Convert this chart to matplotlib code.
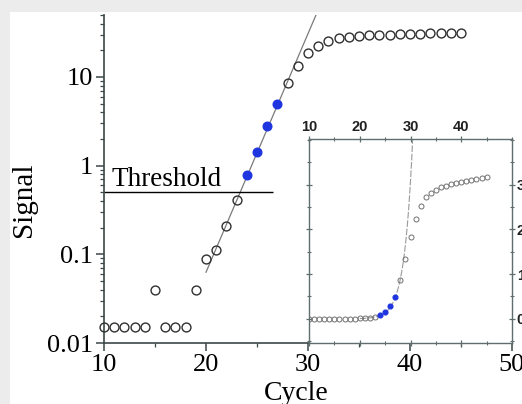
import numpy as np
import matplotlib
matplotlib.use("Agg")
import matplotlib.pyplot as plt
from matplotlib.ticker import MultipleLocator, FixedLocator
from matplotlib.patches import Rectangle

# data
cycles_open1 = [10, 11, 12, 13, 14, 15, 16, 17, 18, 19, 20, 21, 22, 23]
signal_open1 = [0.015, 0.015, 0.015, 0.015, 0.015, 0.04, 0.015, 0.015, 0.015,
                0.04, 0.088, 0.113, 0.21, 0.41]
cycles_blue = [24, 25, 26, 27]
signal_blue = [0.78, 1.44, 2.78, 4.9]
cycles_open2 = [28, 29, 30, 31, 32, 33, 34, 35, 36, 37, 38, 39, 40, 41, 42, 43, 44, 45]
signal_open2 = [8.6, 13.3, 18.4, 22.3, 25.3, 27.2, 28.2, 28.9, 29.4, 29.8, 30.1,
                30.4, 30.7, 30.9, 31.1, 31.3, 31.5, 31.7]

# exponential fit line (log-linear)
fit_x = [20.0, 31.5]
fit_log0 = -1.183
fit_x0 = 20.07
fit_slope = 0.269
threshold = 0.5
threshold_end = 26.6

serif = ['Liberation Serif', 'DejaVu Serif']

fig = plt.figure(figsize=(5.22, 4.04), dpi=100)
fig.patch.set_facecolor('#ececec')
fig.patches.append(Rectangle((10 / 522, 0), 1, 1 - 12 / 404, transform=fig.transFigure,
                             facecolor='white', edgecolor='none', zorder=-10))

ax = fig.add_axes([104 / 522, 61 / 404, 408 / 522, 328 / 404])
ax.set_facecolor('none')
spine_c = '#3c4848'
for s in ['top', 'right']:
    ax.spines[s].set_visible(False)
for s in ['left', 'bottom']:
    ax.spines[s].set_color(spine_c)
    ax.spines[s].set_linewidth(1.2)

ax.set_yscale('log')
ax.set_xlim(10, 50)
ax.set_ylim(0.01, 50)

fx = np.linspace(fit_x[0], fit_x[1], 50)
fy = 10 ** (fit_log0 + fit_slope * (fx - fit_x0))
ax.plot(fx, fy, color='#7a7a7a', lw=0.9, zorder=2)

ax.hlines(threshold, 10, threshold_end, color='black', lw=1.0, zorder=2)
ax.text(10.7, threshold * 1.0, 'Threshold', family=serif, fontsize=19.5,
        va='bottom', ha='left')

ax.plot(cycles_open1 + cycles_open2, signal_open1 + signal_open2, 'o', ms=6.4,
        mfc='none', mec='#303030', mew=1.0, clip_on=False, zorder=3)
ax.plot(cycles_blue, signal_blue, 'o', ms=6.2, color='#1f35e0', mec='#1f35e0', zorder=4)

ax.xaxis.set_major_locator(MultipleLocator(10))
ax.xaxis.set_minor_locator(MultipleLocator(5))
ax.tick_params(axis='both', which='major', direction='out', length=6, width=1.1,
               color=spine_c, labelsize=19)
ax.tick_params(axis='both', which='minor', direction='out', length=3, width=0.9,
               color=spine_c)
ax.set_yticks([0.01, 0.1, 1, 10])
ax.set_yticklabels(['0.01', '0.1', '1', '10'])
for lab in ax.get_xticklabels() + ax.get_yticklabels():
    lab.set_family(serif)
ax.tick_params(axis='x', pad=2)
ax.tick_params(axis='y', pad=2)

ax.set_xlabel('Cycle', family=serif, fontsize=20)
ax.xaxis.set_label_coords(0.47, -0.155)
ax.xaxis.label.set_va('center')
ax.set_ylabel('Signal', family=serif, fontsize=21)
ax.yaxis.set_label_coords(-0.196, 0.436)
ax.yaxis.label.set_va('center')

# inset, linear scale
ins = fig.add_axes([309 / 522, 61 / 404, 203 / 522, 204 / 404])
ins.set_facecolor('white')
ins_c = '#5f6d6d'
for s in ins.spines.values():
    s.set_color(ins_c)
    s.set_linewidth(1.0)
ins.set_xlim(10, 50)
ins.set_ylim(-5.4, 40.2)

ix = np.linspace(fit_x[0], fit_x[1], 200)
iy = 10 ** (fit_log0 + fit_slope * (ix - fit_x0))
ins.plot(ix, iy, color='#9a9a9a', lw=0.8, ls=(0, (6, 1.5)), zorder=2)
ins.plot(cycles_open1 + cycles_open2, signal_open1 + signal_open2, 'o', ms=3.6,
         mfc='none', mec='#707070', mew=0.7, zorder=3)
ins.plot(cycles_blue, signal_blue, 'o', ms=3.4, color='#1f35e0', zorder=4)

ins.xaxis.set_major_locator(FixedLocator([10, 20, 30, 40]))
ins.xaxis.set_minor_locator(MultipleLocator(5))
ins.yaxis.set_major_locator(FixedLocator([0, 10, 20, 30]))
ins.yaxis.set_minor_locator(MultipleLocator(5))
ins.tick_params(axis='both', which='both', direction='inout', color=ins_c,
                top=True, bottom=True, left=True, right=True,
                labeltop=True, labelbottom=False, labelleft=False, labelright=True,
                labelsize=10.5, pad=1.5)
ins.tick_params(which='major', length=4, width=0.9)
ins.tick_params(which='minor', length=3, width=0.8)
for lab in ins.get_xticklabels() + ins.get_yticklabels():
    lab.set_family(['Liberation Sans', 'DejaVu Sans'])
    lab.set_fontweight('bold')
    lab.set_color('#202020')

fig.savefig('out.png', dpi=100)
